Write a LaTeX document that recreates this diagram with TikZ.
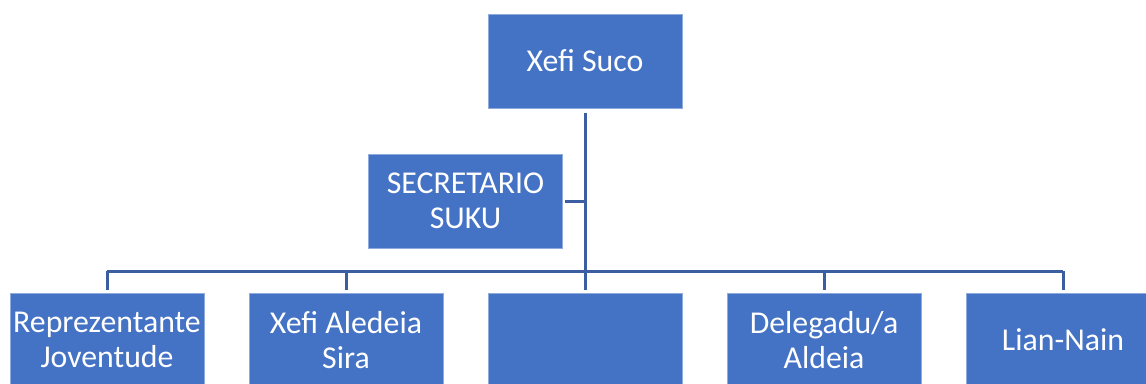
\documentclass[tikz,border=0pt]{standalone}
\usepackage{fontspec}
\setmainfont{Carlito}
\definecolor{boxblue}{RGB}{68,114,196}
\definecolor{boxedge}{RGB}{143,170,220}
\definecolor{linkblue}{RGB}{58,94,161}
\begin{document}
\begin{tikzpicture}[x=1pt,y=-1pt,
  orgbox/.style={rectangle, fill=boxblue, draw=boxedge, line width=1pt,
    minimum width=194pt, minimum height=94pt, inner sep=0pt, align=center,
    text=white, font=\fontsize{31.8}{35}\selectfont},
  conn/.style={draw=linkblue, line width=3pt}]
\useasboundingbox (0,0) rectangle (1146,383);
\clip (0,0) rectangle (1146,383);
\node[orgbox] (top) at (585,61) {Xefi Suco};
\node[orgbox] (sec) at (465.5,201) {SECRETARIO\\SUKU};
\node[orgbox] (b1) at (107,340) {Reprezentante\\Joventude};
\node[orgbox] (b2) at (346,340) {Xefi Aledeia\\Sira};
\node[orgbox] (b3) at (585,340) {};
\node[orgbox] (b4) at (824,340) {Delegadu/a\\Aldeia};
\node[orgbox] (b5) at (1063,340) {Lian-Nain};
\coordinate (bar) at (585,271);
\draw[conn, shorten <=4pt] (top.south) -- (bar);
\draw[conn, shorten <=2pt] (sec.east) -- (sec.east -| top.south);
\draw[conn] (b1.north |- bar) -- (b5.north |- bar);
\foreach \b in {b1,b2,b3,b4,b5}
  \draw[conn, shorten <=3pt] (\b.north) -- (\b.north |- bar);
\end{tikzpicture}
\end{document}
